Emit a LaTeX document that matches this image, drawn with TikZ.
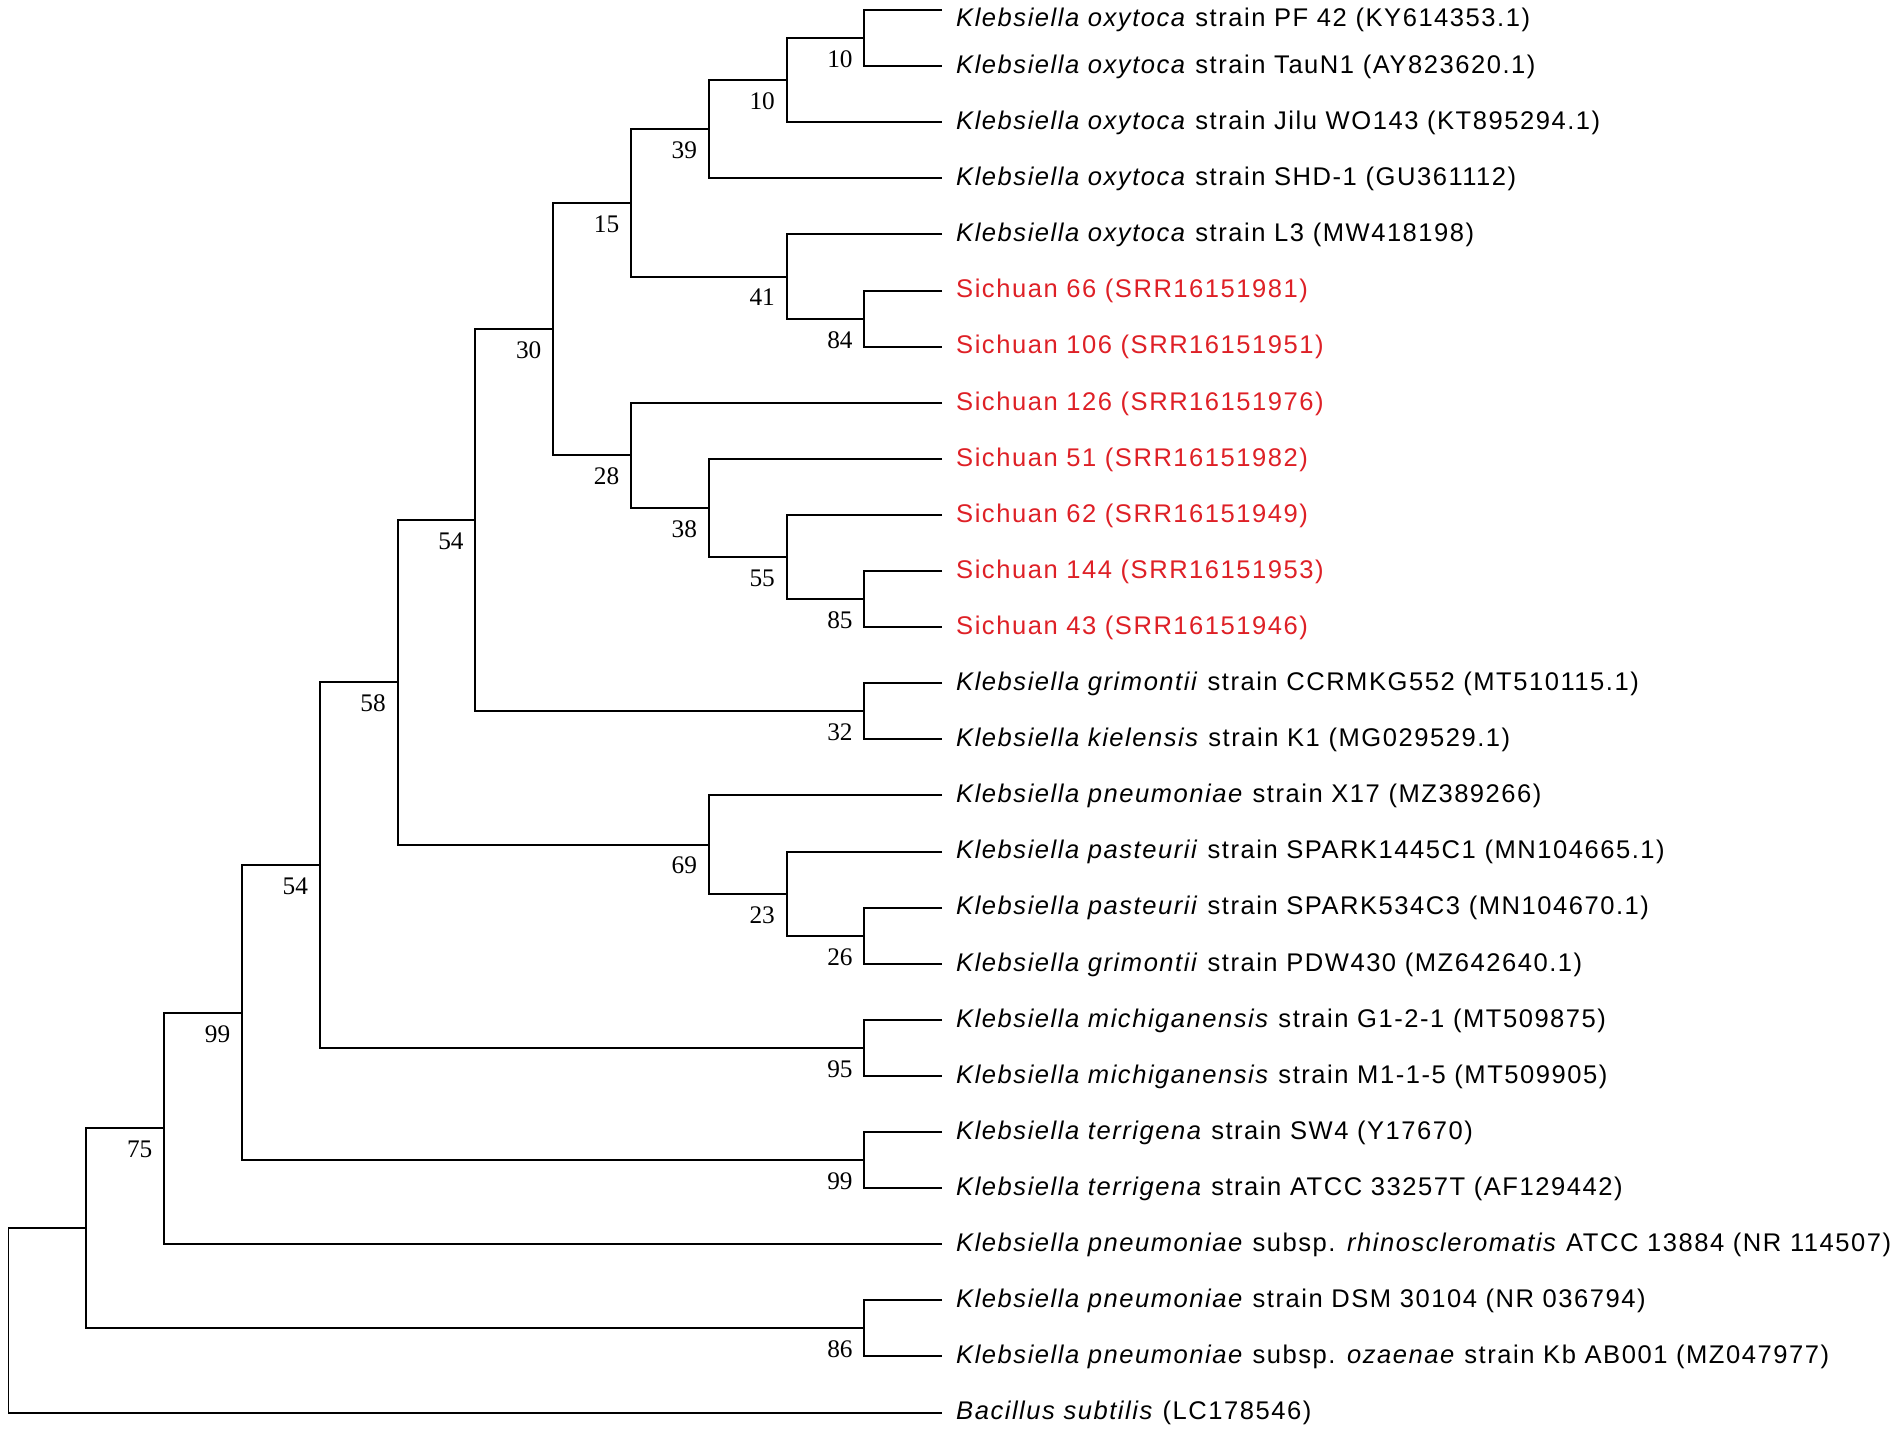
\documentclass[tikz,border=0pt]{standalone}
\usepackage{fontspec}
\setmainfont{Liberation Sans}[LetterSpace=6]
\newfontfamily\bootfont{Liberation Serif}
\definecolor{sichuanred}{RGB}{222,32,38}
\tikzset{
  taxon/.style={anchor=base west,inner sep=0pt,xshift=1.35mm,yshift=-0.73mm,font=\fontsize{7.27}{8.7}\selectfont},
  sichuan/.style={taxon,text=sichuanred},
  bootval/.style={anchor=north east,inner sep=0pt,xshift=-1.1mm,yshift=-1.2mm,font=\bootfont\fontsize{7.2}{8.6}\selectfont},
  branch/.style={line width=0.2mm}
}
\begin{document}
\begin{tikzpicture}[x=0.1mm,y=-0.1mm]
  \useasboundingbox (0,0) rectangle (1900,1441);
  %blad-spidser
  	\coordinate (t0) at (942,10);
  	\coordinate (t1) at (942,66.1);
  	\coordinate (t2) at (942,122.2);
  	\coordinate (t3) at (942,178.3);
  	\coordinate (t4) at (942,234.4);
  	\coordinate (t5) at (942,290.5);
  	\coordinate (t6) at (942,346.6);
  	\coordinate (t7) at (942,402.7);
  	\coordinate (t8) at (942,458.8);
  	\coordinate (t9) at (942,514.9);
  	\coordinate (t10) at (942,571);
  	\coordinate (t11) at (942,627.1);
  	\coordinate (t12) at (942,683.2);
  	\coordinate (t13) at (942,739.3);
  	\coordinate (t14) at (942,795.4);
  	\coordinate (t15) at (942,851.5);
  	\coordinate (t16) at (942,907.6);
  	\coordinate (t17) at (942,963.7);
  	\coordinate (t18) at (942,1019.8);
  	\coordinate (t19) at (942,1075.9);
  	\coordinate (t20) at (942,1132);
  	\coordinate (t21) at (942,1188.1);
  	\coordinate (t22) at (942,1244.2);
  	\coordinate (t23) at (942,1300.3);
  	\coordinate (t24) at (942,1356.4);
  	\coordinate (t25) at (942,1412.5);

  %navne
  	\node[taxon,yshift=-0.94mm] (l0) at (t0) {\textit{Klebsiella oxytoca} strain PF 42 (KY614353.1)};
  	\node[taxon] (l1) at (t1) {\textit{Klebsiella oxytoca} strain TauN1 (AY823620.1)};
  	\node[taxon] (l2) at (t2) {\textit{Klebsiella oxytoca} strain Jilu WO143 (KT895294.1)};
  	\node[taxon] (l3) at (t3) {\textit{Klebsiella oxytoca} strain SHD-1 (GU361112)};
  	\node[taxon] (l4) at (t4) {\textit{Klebsiella oxytoca} strain L3 (MW418198)};
  	\node[sichuan] (l5) at (t5) {Sichuan 66 (SRR16151981)};
  	\node[sichuan] (l6) at (t6) {Sichuan 106 (SRR16151951)};
  	\node[sichuan] (l7) at (t7) {Sichuan 126 (SRR16151976)};
  	\node[sichuan] (l8) at (t8) {Sichuan 51 (SRR16151982)};
  	\node[sichuan] (l9) at (t9) {Sichuan 62 (SRR16151949)};
  	\node[sichuan] (l10) at (t10) {Sichuan 144 (SRR16151953)};
  	\node[sichuan] (l11) at (t11) {Sichuan 43 (SRR16151946)};
  	\node[taxon] (l12) at (t12) {\textit{Klebsiella grimontii} strain CCRMKG552 (MT510115.1)};
  	\node[taxon] (l13) at (t13) {\textit{Klebsiella kielensis} strain K1 (MG029529.1)};
  	\node[taxon] (l14) at (t14) {\textit{Klebsiella pneumoniae} strain X17 (MZ389266)};
  	\node[taxon] (l15) at (t15) {\textit{Klebsiella pasteurii} strain SPARK1445C1 (MN104665.1)};
  	\node[taxon] (l16) at (t16) {\textit{Klebsiella pasteurii} strain SPARK534C3 (MN104670.1)};
  	\node[taxon] (l17) at (t17) {\textit{Klebsiella grimontii} strain PDW430 (MZ642640.1)};
  	\node[taxon] (l18) at (t18) {\textit{Klebsiella michiganensis} strain G1-2-1 (MT509875)};
  	\node[taxon] (l19) at (t19) {\textit{Klebsiella michiganensis} strain M1-1-5 (MT509905)};
  	\node[taxon] (l20) at (t20) {\textit{Klebsiella terrigena} strain SW4 (Y17670)};
  	\node[taxon] (l21) at (t21) {\textit{Klebsiella terrigena} strain ATCC 33257T (AF129442)};
  	\node[taxon] (l22) at (t22) {\textit{Klebsiella pneumoniae} subsp. \textit{rhinoscleromatis} ATCC 13884 (NR 114507)};
  	\node[taxon] (l23) at (t23) {\textit{Klebsiella pneumoniae} strain DSM 30104 (NR 036794)};
  	\node[taxon] (l24) at (t24) {\textit{Klebsiella pneumoniae} subsp. \textit{ozaenae} strain Kb AB001 (MZ047977)};
  	\node[taxon] (l25) at (t25) {\textit{Bacillus subtilis} (LC178546)};

  %indre knuder
  	\coordinate (nA) at (864.3,38.05);
  	\coordinate (nB) at (786.5,80.1);
  	\coordinate (nC) at (708.7,129.2);
  	\coordinate (nD) at (864.3,318.55);
  	\coordinate (nE) at (786.5,276.5);
  	\coordinate (nF) at (630.9,202.85);
  	\coordinate (nG) at (864.3,599.05);
  	\coordinate (nH) at (786.5,557);
  	\coordinate (nI) at (708.7,507.9);
  	\coordinate (nJ) at (630.9,455.3);
  	\coordinate (nK) at (553.1,329.1);
  	\coordinate (nL) at (864.3,711.25);
  	\coordinate (nM) at (475.3,520.2);
  	\coordinate (nN) at (864.3,935.65);
  	\coordinate (nO) at (786.5,893.6);
  	\coordinate (nP) at (708.7,844.5);
  	\coordinate (nQ) at (397.5,682.35);
  	\coordinate (nR) at (864.3,1047.85);
  	\coordinate (nS) at (319.7,865.1);
  	\coordinate (nT) at (864.3,1160.05);
  	\coordinate (nU) at (241.9,1012.6);
  	\coordinate (nV) at (164.1,1128.4);
  	\coordinate (nW) at (864.3,1328.35);
  	\coordinate (nX) at (86.3,1228.4);
  	\coordinate (root) at (8.5,1320.45);

  %grene
  	\draw[branch] (t0) -| (nA) |- (t1);
  	\draw[branch] (nA) -| (nB) |- (t2);
  	\draw[branch] (nB) -| (nC) |- (t3);
  	\draw[branch] (t5) -| (nD) |- (t6);
  	\draw[branch] (t4) -| (nE) |- (nD);
  	\draw[branch] (nC) -| (nF) |- (nE);
  	\draw[branch] (t10) -| (nG) |- (t11);
  	\draw[branch] (t9) -| (nH) |- (nG);
  	\draw[branch] (t8) -| (nI) |- (nH);
  	\draw[branch] (t7) -| (nJ) |- (nI);
  	\draw[branch] (nF) -| (nK) |- (nJ);
  	\draw[branch] (t12) -| (nL) |- (t13);
  	\draw[branch] (nK) -| (nM) |- (nL);
  	\draw[branch] (t16) -| (nN) |- (t17);
  	\draw[branch] (t15) -| (nO) |- (nN);
  	\draw[branch] (t14) -| (nP) |- (nO);
  	\draw[branch] (nM) -| (nQ) |- (nP);
  	\draw[branch] (t18) -| (nR) |- (t19);
  	\draw[branch] (nQ) -| (nS) |- (nR);
  	\draw[branch] (t20) -| (nT) |- (t21);
  	\draw[branch] (nS) -| (nU) |- (nT);
  	\draw[branch] (nU) -| (nV) |- (t22);
  	\draw[branch] (t23) -| (nW) |- (t24);
  	\draw[branch] (nV) -| (nX) |- (nW);
  	\draw[branch] (nX) -| (root) |- (t25);

  %bootstrap-værdier
  	\node[bootval] (bA) at (nA) {10};
  	\node[bootval] (bB) at (nB) {10};
  	\node[bootval] (bC) at (nC) {39};
  	\node[bootval] (bD) at (nD) {84};
  	\node[bootval] (bE) at (nE) {41};
  	\node[bootval] (bF) at (nF) {15};
  	\node[bootval] (bG) at (nG) {85};
  	\node[bootval] (bH) at (nH) {55};
  	\node[bootval] (bI) at (nI) {38};
  	\node[bootval] (bJ) at (nJ) {28};
  	\node[bootval] (bK) at (nK) {30};
  	\node[bootval] (bL) at (nL) {32};
  	\node[bootval] (bM) at (nM) {54};
  	\node[bootval] (bN) at (nN) {26};
  	\node[bootval] (bO) at (nO) {23};
  	\node[bootval] (bP) at (nP) {69};
  	\node[bootval] (bQ) at (nQ) {58};
  	\node[bootval] (bR) at (nR) {95};
  	\node[bootval] (bS) at (nS) {54};
  	\node[bootval] (bT) at (nT) {99};
  	\node[bootval] (bU) at (nU) {99};
  	\node[bootval] (bV) at (nV) {75};
  	\node[bootval] (bW) at (nW) {86};
\end{tikzpicture}
\end{document}
